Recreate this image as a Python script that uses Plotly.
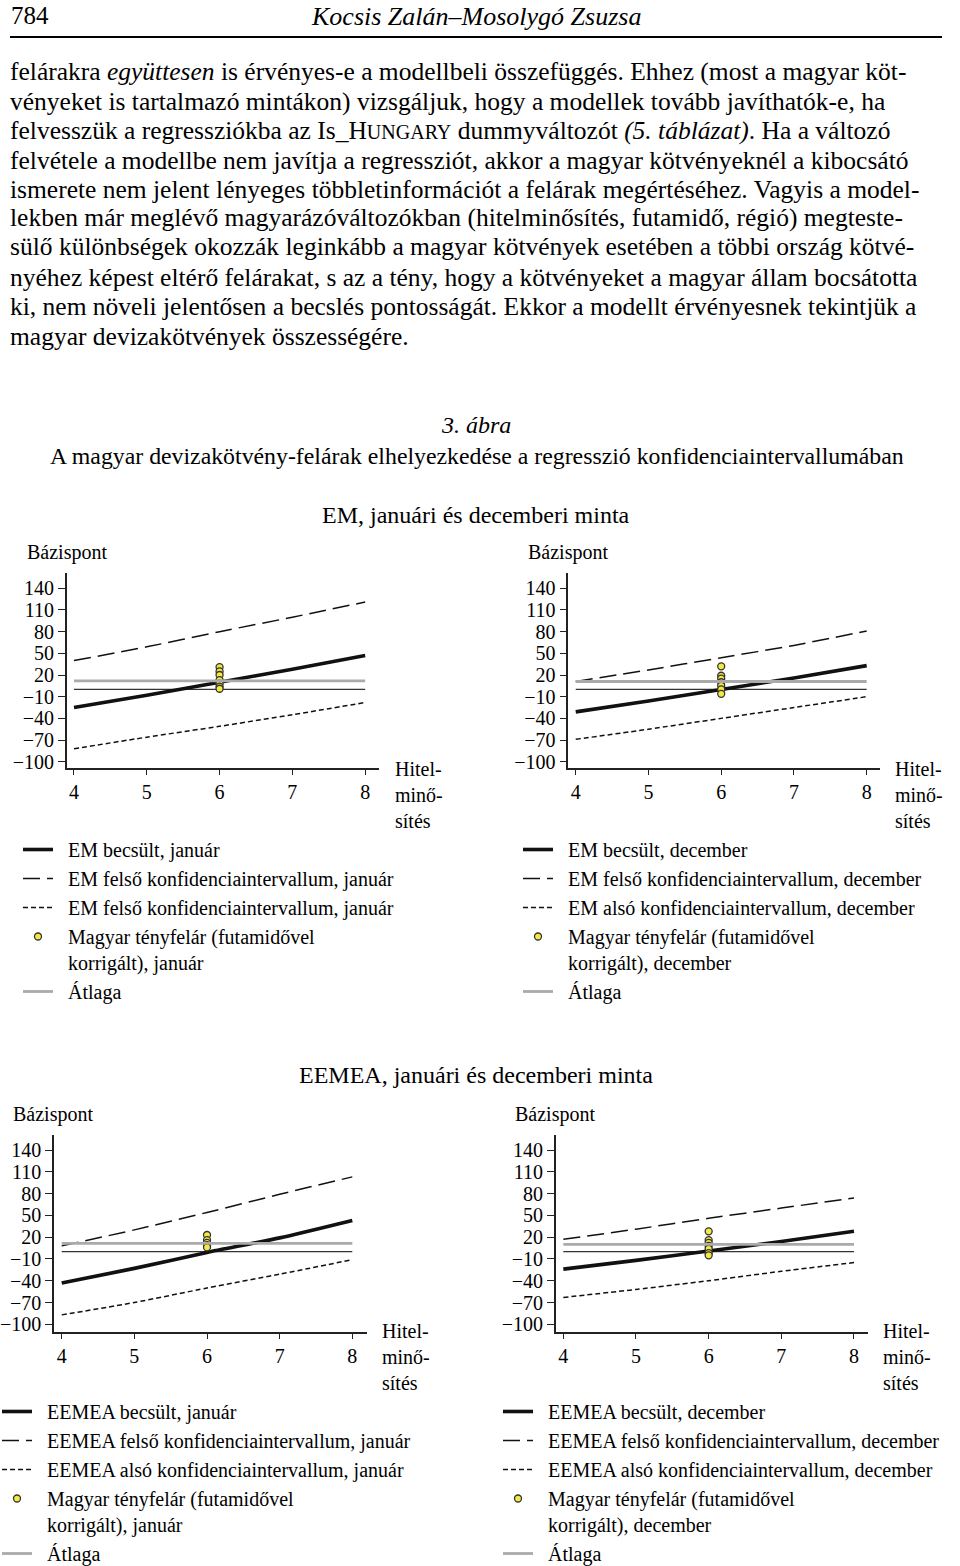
import plotly.graph_objects as go

W, H = 960, 1566
FONT = "Liberation Serif"

# ---------------- data ----------------
rating = [4, 5, 6, 7, 8]          # Hitelminősítés
rating_ends = [4, 8]
hungary_rating = 6
zero_ref = [0, 0]
y_ticks = [-100, -70, -40, -10, 20, 50, 80, 110, 140]

# EM, január
em_jan_est = [-25, -8, 10, 28, 47]
em_jan_upper = [40, 59, 80, 100, 121]
em_jan_lower = [-82, -66, -51, -35, -18]
em_jan_avg = 12
em_jan_hu = [31, 25, 20, 13, 8, 4, 1]

# EM, december
em_dec_est = [-31, -16, 0, 16, 33]
em_dec_upper = [11, 27, 44, 61, 81]
em_dec_lower = [-69, -55, -40, -25, -10]
em_dec_avg = 11
em_dec_hu = [32, 19, 15, 10, 5, 0, -6]

# EEMEA, január
eemea_jan_est = [-43, -23, -1, 19, 43]
eemea_jan_upper = [8, 30, 54, 79, 103]
eemea_jan_lower = [-87, -70, -50, -31, -11]
eemea_jan_avg = 11.5
eemea_jan_hu = [23, 16, 12, 9, 6]

# EEMEA, december
eemea_dec_est = [-24, -12, 1, 14, 28]
eemea_dec_upper = [17, 31, 46, 60, 74]
eemea_dec_lower = [-63, -52, -40, -27, -15]
eemea_dec_avg = 10
eemea_dec_hu = [28, 16, 12, 8, 4, -2, -5]

NB = "\u00a0\u00a0"
names_em_jan = ["EM becsült, január",
                "EM felső konfidenciaintervallum, január",
                "EM felső konfidenciaintervallum, január",
                "Magyar tényfelár (futamidővel<br>" + NB + "korrigált), január",
                "Átlaga"]
names_em_dec = ["EM becsült, december",
                "EM felső konfidenciaintervallum, december",
                "EM alsó konfidenciaintervallum, december",
                "Magyar tényfelár (futamidővel<br>" + NB + "korrigált), december",
                "Átlaga"]
names_eemea_jan = ["EEMEA becsült, január",
                   "EEMEA felső konfidenciaintervallum, január",
                   "EEMEA alsó konfidenciaintervallum, január",
                   "Magyar tényfelár (futamidővel<br>" + NB + "korrigált), január",
                   "Átlaga"]
names_eemea_dec = ["EEMEA becsült, december",
                   "EEMEA felső konfidenciaintervallum, december",
                   "EEMEA alsó konfidenciaintervallum, december",
                   "Magyar tényfelár (futamidővel<br>" + NB + "korrigált), december",
                   "Átlaga"]

# ---------------- helpers ----------------
def px(x):
    return x / W


def py(y):
    return 1 - y / H


fig = go.Figure()

panels = [
    # (est, upper, lower, avg, hu, names, xdom px, ydom px, xrange, yrange, legend pos)
    (em_jan_est, em_jan_upper, em_jan_lower, em_jan_avg, em_jan_hu, names_em_jan,
     (66.7, 379), (573, 768.3), (3.9, 8.19), (-109.1, 161.2), (18, 830)),
    (em_dec_est, em_dec_upper, em_dec_lower, em_dec_avg, em_dec_hu, names_em_dec,
     (568.3, 880), (573, 768.3), (3.898, 8.183), (-109.1, 161.2), (518, 830)),
    (eemea_jan_est, eemea_jan_upper, eemea_jan_lower, eemea_jan_avg, eemea_jan_hu, names_eemea_jan,
     (54, 366.7), (1135, 1332.3), (3.894, 8.198), (-111.0, 160.65), (-3, 1392)),
    (eemea_dec_est, eemea_dec_upper, eemea_dec_lower, eemea_dec_avg, eemea_dec_hu, names_eemea_dec,
     (555.7, 868.3), (1135, 1332.3), (3.895, 8.197), (-111.0, 160.65), (498, 1392)),
]

layout_axes = {}
legends = {}
for i, (est, up, lo, avg, hu, names, xd, yd, xr, yr, lg) in enumerate(panels, start=1):
    sfx = "" if i == 1 else str(i)
    xa, ya = "x" + sfx, "y" + sfx
    leg = "legend" + sfx
    common = dict(xaxis=xa, yaxis=ya, legend=leg)
    fig.add_trace(go.Scatter(x=rating_ends, y=zero_ref, mode="lines",
                             line=dict(color="#333333", width=1.3),
                             showlegend=False, hoverinfo="skip", **common))
    fig.add_trace(go.Scatter(x=rating, y=est, mode="lines", name=NB + names[0],
                             line=dict(color="#111111", width=3.6, shape="spline", smoothing=0.6),
                             **common))
    fig.add_trace(go.Scatter(x=rating, y=up, mode="lines", name=NB + names[1],
                             line=dict(color="#111111", width=1.5, dash="17px,7px",
                                       shape="spline", smoothing=0.6),
                             **common))
    fig.add_trace(go.Scatter(x=rating, y=lo, mode="lines", name=NB + names[2],
                             line=dict(color="#111111", width=1.5, dash="5px,3px",
                                       shape="spline", smoothing=0.6),
                             **common))
    fig.add_trace(go.Scatter(x=[hungary_rating] * len(hu), y=hu, mode="markers", name=NB + names[3],
                             marker=dict(color="#f4e842", size=7,
                                         line=dict(color="#333333", width=1.3)),
                             **common))
    fig.add_trace(go.Scatter(x=rating_ends, y=[avg, avg], mode="lines", name=NB + names[4],
                             line=dict(color="#aaaaaa", width=2.8),
                             **common))

    axis_common = dict(showgrid=False, zeroline=False, showline=True,
                       linecolor="#222222", linewidth=1.5, ticks="outside",
                       tickcolor="#222222", tickwidth=1.3,
                       tickfont=dict(family=FONT, size=20, color="black"))
    layout_axes["xaxis" + sfx] = dict(domain=[px(xd[0]), px(xd[1])], range=list(xr),
                                      anchor=ya, tickvals=rating, ticklen=5,
                                      fixedrange=True, **axis_common)
    layout_axes["yaxis" + sfx] = dict(domain=[py(yd[1]), py(yd[0])], range=list(yr),
                                      anchor=xa, tickvals=y_ticks, ticklen=7,
                                      fixedrange=True, **axis_common)
    legends[leg] = dict(x=px(lg[0]), y=py(lg[1]), xanchor="left", yanchor="top",
                        bgcolor="rgba(0,0,0,0)", borderwidth=0, valign="top",
                        traceorder="normal", tracegroupgap=0,
                        font=dict(family=FONT, size=20, color="black"))

# ---------------- page text ----------------
ann = []


def text(x, y, s, size, xanchor="left", italic=False, yanchor="middle"):
    if italic:
        s = "<i>" + s + "</i>"
    ann.append(dict(x=px(x), y=py(y), xref="paper", yref="paper", text=s,
                    showarrow=False, xanchor=xanchor, yanchor=yanchor,
                    font=dict(family=FONT, size=size, color="black"), align="left"))


text(9, 0, "784", 25, yanchor="top")
text(476, 0, "Kocsis Zalán–Mosolygó Zsuzsa", 26, xanchor="center", italic=True, yanchor="top")

body = [
    "felárakra <i>együttesen</i> is érvényes-e a modellbeli összefüggés. Ehhez (most a magyar köt-",
    "vényeket is tartalmazó mintákon) vizsgáljuk, hogy a modellek tovább javíthatók-e, ha",
    "felvesszük a regressziókba az Is_H<span style=\"font-size:20px\">UNGARY</span> dummyváltozót <i>(5. táblázat)</i>. Ha a változó",
    "felvétele a modellbe nem javítja a regressziót, akkor a magyar kötvényeknél a kibocsátó",
    "ismerete nem jelent lényeges többletinformációt a felárak megértéséhez. Vagyis a model-",
    "lekben már meglévő magyarázóváltozókban (hitelminősítés, futamidő, régió) megteste-",
    "sülő különbségek okozzák leginkább a magyar kötvények esetében a többi ország kötvé-",
    "nyéhez képest eltérő felárakat, s az a tény, hogy a kötvényeket a magyar állam bocsátotta",
    "ki, nem növeli jelentősen a becslés pontosságát. Ekkor a modellt érvényesnek tekintjük a",
    "magyar devizakötvények összességére.",
]
body_y = [72, 101, 130, 160, 189, 218, 247, 277, 306, 336]
for s, y in zip(body, body_y):
    text(8, y, s, 25.5)

text(476, 425, "3. ábra", 24, xanchor="center", italic=True)
text(477, 456, "A magyar devizakötvény-felárak elhelyezkedése a regresszió konfidenciaintervallumában",
     23.8, xanchor="center")
text(476, 515, "EM, januári és decemberi minta", 24, xanchor="center")
text(476, 1075, "EEMEA, januári és decemberi minta", 24, xanchor="center")

for (bx, by), (hx, hy) in [((25, 552), (393, 795)), ((526, 552), (893, 795)),
                           ((11, 1114), (380, 1357)), ((513, 1114), (881, 1357))]:
    text(bx, by, "Bázispont", 20)
    text(hx, hy, "Hitel-<br>minő-<br>sítés", 20)

fig.update_layout(
    width=W, height=H,
    margin=dict(l=0, r=0, t=0, b=0, autoexpand=False),
    paper_bgcolor="white", plot_bgcolor="white",
    showlegend=True,
    annotations=ann,
    shapes=[dict(type="line", xref="paper", yref="paper",
                 x0=px(10), x1=px(942), y0=py(37), y1=py(37),
                 line=dict(color="black", width=2))],
    **layout_axes,
    **legends,
)

fig.write_html("out.html")
